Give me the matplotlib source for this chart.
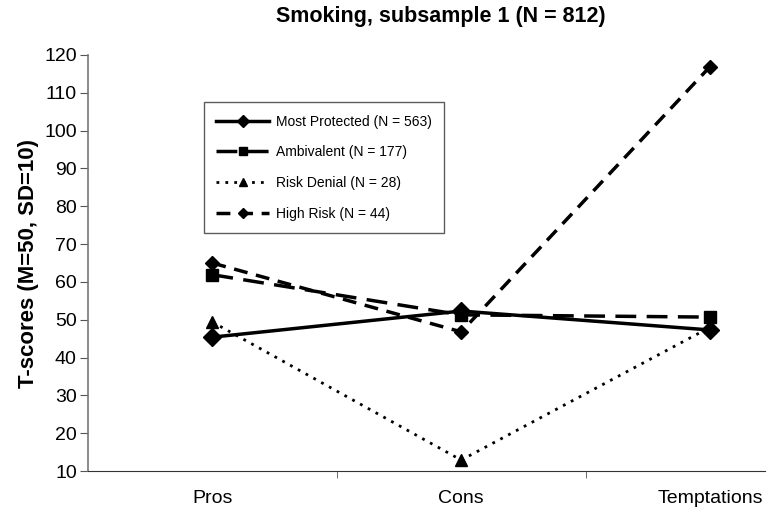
import numpy as np
import matplotlib.pyplot as plt

plt.rcParams['font.family'] = ['Liberation Sans', 'DejaVu Sans']

categories = ["Pros", "Cons", "Temptations"]
most_protected = [45.4, 52.3, 47.3]
ambivalent = [61.9, 51.3, 50.7]
risk_denial = [49.4, 12.9, 48.0]
high_risk = [65.0, 46.8, 116.9]

labels = ["Most Protected (N = 563)", "Ambivalent (N = 177)",
          "Risk Denial (N = 28)", "High Risk (N = 44)"]

fig = plt.figure(figsize=(7.67, 5.12), dpi=100)
ax = fig.add_axes([0.1147, 0.080, 0.8823, 0.8126])

x = np.arange(len(categories))
ax.plot(x, most_protected, color='black', lw=2.5, marker='D', ms=9, label=labels[0])
ax.plot(x, ambivalent, color='black', lw=2.5, dashes=(6, 3), marker='s', ms=9, label=labels[1])
ax.plot(x, risk_denial, color='black', lw=2, linestyle=(0, (1, 2.2)), marker='^', ms=9, label=labels[2])
ax.plot(x, high_risk, color='black', lw=2.5, dashes=(4, 2.5), marker='D', ms=7, label=labels[3])

ax.set_xlim(-0.5, 2.22)
ax.set_ylim(10, 120)
ax.set_yticks(np.arange(10, 121, 10))
ax.set_xticks(x)
ax.set_xticklabels(categories, fontsize=14)
ax.set_xticks([0.5, 1.5], minor=True)
ax.tick_params(axis='x', which='major', length=0, pad=14)
ax.tick_params(axis='x', which='minor', length=5, direction='out', color='#555555')
ax.tick_params(axis='y', labelsize=14, length=6, color='#555555', pad=2)

for s in ['top', 'right']:
    ax.spines[s].set_visible(False)
ax.spines['left'].set_color('#777777')
ax.spines['left'].set_linewidth(1.2)
ax.spines['bottom'].set_color('#333333')

ax.set_ylabel("T-scores (M=50, SD=10)", fontsize=16, fontweight='bold', labelpad=4)
fig.text(0.575, 0.968, "Smoking, subsample 1 (N = 812)", fontsize=15.5,
         fontweight='bold', ha='center', va='center')

leg = ax.legend(loc='upper left', bbox_to_anchor=(0.171, 0.887), borderaxespad=0,
                frameon=True, fancybox=False, fontsize=10, handlelength=3.8,
                borderpad=0.9, labelspacing=1.2, handletextpad=0.5,
                edgecolor='#333333', markerscale=0.7)
leg.get_frame().set_linewidth(1.0)

fig.savefig("out.png", dpi=100)
